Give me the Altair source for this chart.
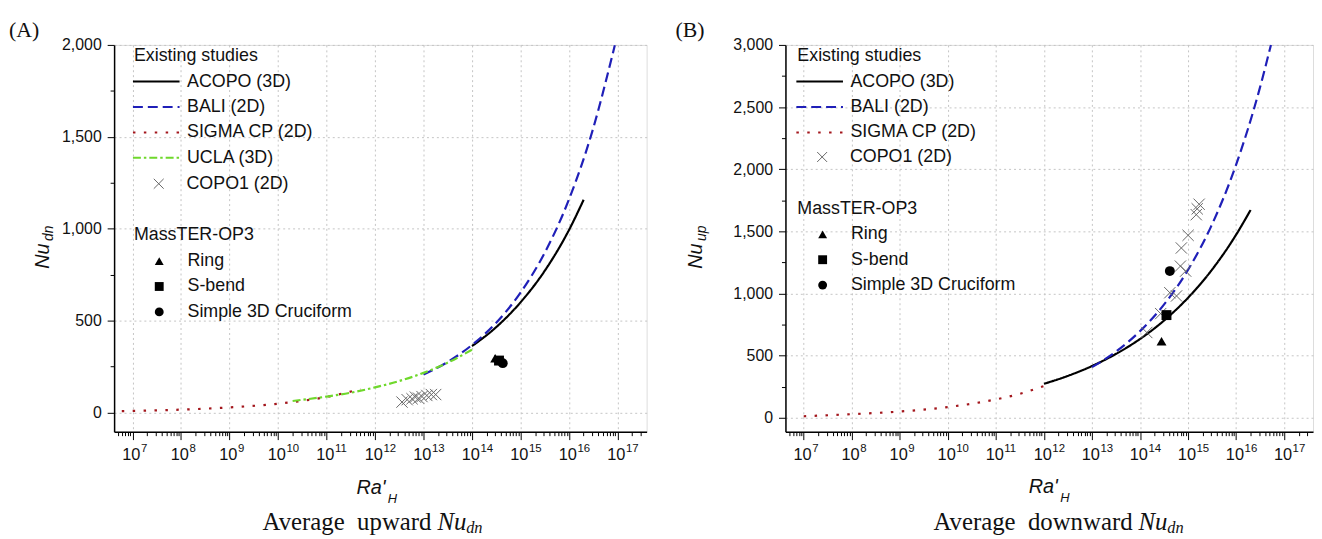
import altair as alt
import pandas as pd

SANS = "Liberation Sans"
SERIF = "Liberation Serif"
TXT = "#111111"

# ---------------- Panel A: average upward Nu_dn ----------------
A_ACOPO_RA = [1e14, 3e14, 1e15, 3e15, 1e16, 2e16]
A_ACOPO_NU = [361, 459, 599, 762, 993, 1157]
A_BALI_RA = [1e13, 3e13, 1e14, 3e14, 1e15, 3e15, 1e16, 3e16, 8.8e16]
A_BALI_NU = [206, 271, 367, 482, 652, 858, 1160, 1527, 1998]
A_SIGMA_RA = [6e6, 1e7, 1e8, 1e9, 1e10, 1e11, 5e11]
A_SIGMA_NU = [7, 8, 15, 27, 47, 84, 126]
A_UCLA_RA = [2e10, 1e11, 3e11, 1e12, 3e12, 1e13, 3e13, 1e14]
A_UCLA_NU = [62, 86, 106, 136, 169, 215, 268, 341]
A_COPO1_RA = [3.6e12, 4.6e12, 5.8e12, 6.8e12, 7.9e12, 9.3e12, 1.17e13, 1.45e13, 1.78e13]
A_COPO1_NU = [56, 69, 74, 83, 77, 86, 92, 97, 97]
A_MASS_RA = [3.0e14, 3.6e14, 4.3e14]
A_MASS_NU = [295, 282, 268]

# ---------------- Panel B: average downward ----------------
B_ACOPO_RA = [1e12, 3e12, 1e13, 3e13, 1e14, 3e14, 1e15, 3e15, 1e16, 2e16]
B_ACOPO_NU = [273, 334, 416, 509, 634, 775, 966, 1181, 1473, 1672]
B_BALI_RA = [1e13, 3e13, 1e14, 3e14, 1e15, 3e15, 1e16, 3e16, 5.3e16]
B_BALI_NU = [407, 526, 697, 900, 1191, 1538, 2037, 2630, 3000]
B_SIGMA_RA = [1e7, 1e8, 1e9, 1e10, 1e11, 3e11, 1e12]
B_SIGMA_NU = [12, 29, 50, 86, 148, 190, 255]
B_COPO1_RA = [1.38e14, 2.69e14, 4.17e14, 5.75e14, 6.92e14, 8.9e14, 7.24e14, 1.0e15, 1.48e15, 1.55e15, 1.7e15]
B_COPO1_NU = [686, 838, 1006, 980, 1220, 1180, 1366, 1468, 1634, 1681, 1718]
B_MASS_RA = [2.8e14, 3.55e14, 4.17e14]
B_MASS_NU = [615, 826, 1180]

# ---------------- names, styles, tick labels ----------------
LINE_SERIES_A = ["ACOPO (3D)", "BALI (2D)", "SIGMA CP (2D)", "UCLA (3D)"]
LINE_SERIES_B = ["ACOPO (3D)", "BALI (2D)", "SIGMA CP (2D)"]
COPO1_NAME = "COPO1 (2D)"
MASS_CONFIGS = ["Ring", "S-bend", "Simple 3D Cruciform"]
MASS_SHAPES = ["triangle-up", "square", "circle"]
COLORS = {"ACOPO (3D)": "#000000", "BALI (2D)": "#1f1fb8",
          "SIGMA CP (2D)": "#a3161c", "UCLA (3D)": "#6fd82c"}
DASHES = {"ACOPO (3D)": [1, 0], "BALI (2D)": [10, 5],
          "SIGMA CP (2D)": [2.5, 8.5], "UCLA (3D)": [8, 3, 2.5, 3]}
X_PATH = "M-1,-1L1,1M1,-1L-1,1"
LINE_PATH = "M-4.7,0H4.7"
# x tick labels: base "10" with the exponent written as a superscript
X_LABEL_DECADES = [1e7, 1e8, 1e9, 1e10, 1e11, 1e12, 1e13, 1e14, 1e15, 1e16, 1e17]
X_LABEL_BASE = ["10"] * 11
X_LABEL_EXP = ["7", "8", "9", "10", "11", "12", "13", "14", "15", "16", "17"]

XDOM = [10 ** 6.62, 10 ** 17.6]
X_TICKS = [m * 10 ** e for e in range(6, 18) for m in range(1, 10)
           if XDOM[0] <= m * 10 ** e <= XDOM[1]]
MAJ_X = "abs(log(datum.value)/LN10 - round(log(datum.value)/LN10)) < 0.001"
MAJ_Y = "datum.value % 500 == 0"

H = 390
XLAB = pd.DataFrame({"ra": X_LABEL_DECADES, "base": X_LABEL_BASE, "exp": X_LABEL_EXP})


def lines_frame(items):
    rows = []
    for name, ra, nu in items:
        rows += [{"series": name, "ra": r, "nu": n} for r, n in zip(ra, nu)]
    return pd.DataFrame(rows)


def txt(text, x, y, size, font=SANS, style="normal", align="left", angle=0):
    return alt.Chart(pd.DataFrame({"t": [text]})).mark_text(
        align=align, baseline="middle", font=font, fontSize=size,
        fontStyle=style, angle=angle, color=TXT
    ).encode(x=alt.value(x), y=alt.value(y), text="t:N")


def panel(lines, series, copo, mass, ydom, ymax, W, lx, ly1, ly2, ly3, texts):
    xaxis = alt.Axis(
        values=X_TICKS, title=None, grid=True, labels=False,
        gridOpacity={"condition": {"test": MAJ_X, "value": 1}, "value": 0},
        gridColor="#c4c4c4", gridDash=[2, 3], gridWidth=1,
        tickSize={"condition": {"test": MAJ_X, "value": 8}, "value": 4},
        tickColor="black", tickWidth=1, domainColor="black", domainWidth=1.5)
    yaxis = alt.Axis(
        values=list(range(0, ymax + 1, 250)), title=None, grid=True,
        gridOpacity={"condition": {"test": MAJ_Y, "value": 1}, "value": 0},
        gridColor="#c4c4c4", gridDash=[2, 3], gridWidth=1,
        tickSize={"condition": {"test": MAJ_Y, "value": 7}, "value": 4},
        tickColor="black", tickWidth=1, domainColor="black", domainWidth=1.5,
        format=",d", labelExpr=f"{MAJ_Y} ? datum.label : ''",
        labelFont=SANS, labelFontSize=16, labelColor=TXT, labelPadding=6,
        labelOverlap=False, labelFlush=False)
    x = alt.X("ra:Q", scale=alt.Scale(type="log", domain=XDOM, nice=False), axis=xaxis)
    y = alt.Y("nu:Q", scale=alt.Scale(domain=ydom, nice=False, zero=False), axis=yaxis)

    common = dict(orient="none", padding=0, labelFont=SANS, labelFontSize=18,
                  labelColor=TXT, titleFont=SANS, titleFontSize=18,
                  titleFontWeight="normal", titleColor=TXT, labelLimit=400,
                  rowPadding=7.6, titlePadding=8, legendX=lx)
    line_leg = alt.Legend(title="Existing studies", legendY=ly1, symbolType=LINE_PATH,
                          symbolSize=100, symbolStrokeWidth=2, symbolOffset=13.5,
                          labelOffset=22, **common)
    lines_layer = alt.Chart(lines).mark_line(strokeWidth=2.2, interpolate="monotone").encode(
        x=x, y=y,
        color=alt.Color("series:N", scale=alt.Scale(domain=series, range=[COLORS[s] for s in series]),
                        legend=line_leg),
        strokeDash=alt.StrokeDash("series:N", scale=alt.Scale(domain=series, range=[DASHES[s] for s in series]),
                                  legend=line_leg),
    )
    copo_layer = alt.Chart(copo).mark_point(shape=X_PATH, size=130, filled=False,
                                            color="#666666", strokeWidth=1).encode(
        x=x, y=y,
        opacity=alt.Opacity("src:N", scale=alt.Scale(domain=[COPO1_NAME], range=[1]),
                            legend=alt.Legend(title=None, legendY=ly2, symbolType=X_PATH,
                                              symbolSize=100, symbolStrokeColor="#666666",
                                              symbolFillColor="transparent", symbolStrokeWidth=1,
                                              symbolOffset=16, labelOffset=19, **common)),
    )
    mass_layer = alt.Chart(mass).mark_point(filled=True, color="black", size=100, opacity=1).encode(
        x=x, y=y,
        shape=alt.Shape("config:N", scale=alt.Scale(domain=MASS_CONFIGS, range=MASS_SHAPES),
                        legend=alt.Legend(title="MassTER-OP3", legendY=ly3, symbolSize=80,
                                          symbolFillColor="black", symbolStrokeColor="black",
                                          symbolOffset=16.5, labelOffset=19.5, **common)),
    )
    base_lab = alt.Chart(XLAB).mark_text(align="right", baseline="middle", dx=8, font=SANS,
                                         fontSize=16.5, color=TXT).encode(
        x=x, y=alt.value(H + 24), text="base:N")
    exp_lab = alt.Chart(XLAB).mark_text(align="left", baseline="middle", dx=8.5, font=SANS,
                                        fontSize=11.5, color=TXT).encode(
        x=x, y=alt.value(H + 17), text="exp:N")
    return alt.layer(lines_layer, copo_layer, mass_layer, base_lab, exp_lab,
                     *texts).properties(width=W, height=H)


lines_a = lines_frame([("ACOPO (3D)", A_ACOPO_RA, A_ACOPO_NU), ("BALI (2D)", A_BALI_RA, A_BALI_NU),
                       ("SIGMA CP (2D)", A_SIGMA_RA, A_SIGMA_NU), ("UCLA (3D)", A_UCLA_RA, A_UCLA_NU)])
lines_b = lines_frame([("ACOPO (3D)", B_ACOPO_RA, B_ACOPO_NU), ("BALI (2D)", B_BALI_RA, B_BALI_NU),
                       ("SIGMA CP (2D)", B_SIGMA_RA, B_SIGMA_NU)])
copo_a = pd.DataFrame({"src": COPO1_NAME, "ra": A_COPO1_RA, "nu": A_COPO1_NU})
copo_b = pd.DataFrame({"src": COPO1_NAME, "ra": B_COPO1_RA, "nu": B_COPO1_NU})
mass_a = pd.DataFrame({"config": MASS_CONFIGS, "ra": A_MASS_RA, "nu": A_MASS_NU})
mass_b = pd.DataFrame({"config": MASS_CONFIGS, "ra": B_MASS_RA, "nu": B_MASS_NU})

texts_a = [
    txt("(A)", -106, -15, 22, font=SERIF),
    txt("Nu", -72, 213, 20, style="italic", align="center", angle=270),
    txt("dn", -66, 190, 14, style="italic", align="center", angle=270),
    txt("Ra'", 259, 447, 20, style="italic", align="center"),
    txt("H", 276, 458, 13, style="italic"),
    txt("Average\u00a0 upward", 320, 481, 25, font=SERIF, align="right"),
    txt("Nu", 326, 481, 25, font=SERIF, style="italic"),
    txt("dn", 355, 487, 16.5, font=SERIF, style="italic"),
]
texts_b = [
    txt("(B)", -111, -15, 22, font=SERIF),
    txt("Nu", -90, 213, 20, style="italic", align="center", angle=270),
    txt("up", -84, 190, 14, style="italic", align="center", angle=270),
    txt("Ra'", 260, 446, 20, style="italic", align="center"),
    txt("H", 277, 457, 13, style="italic"),
    txt("Average\u00a0 downward", 350, 481, 25, font=SERIF, align="right"),
    txt("Nu", 356, 481, 25, font=SERIF, style="italic"),
    txt("dn", 385, 487, 16.5, font=SERIF, style="italic"),
]

panel_a = panel(lines_a, LINE_SERIES_A, copo_a, mass_a, [-105, 2000], 2000, 537,
                20, 2, 131, 183, texts_a)
panel_b = panel(lines_b, LINE_SERIES_B, copo_b, mass_b, [-112, 3000], 3000, 532,
                12, 2, 104, 156, texts_b)

chart = alt.hconcat(panel_a, panel_b, spacing=27).resolve_scale(
    color="independent", strokeDash="independent", opacity="independent", shape="independent",
    x="independent", y="independent"
).properties(padding={"left": 0, "top": 8, "right": 0, "bottom": 0}).configure_view(
    stroke=None).configure(background="white")

chart.save("out.html", embed_options={"renderer": "svg", "actions": False})
